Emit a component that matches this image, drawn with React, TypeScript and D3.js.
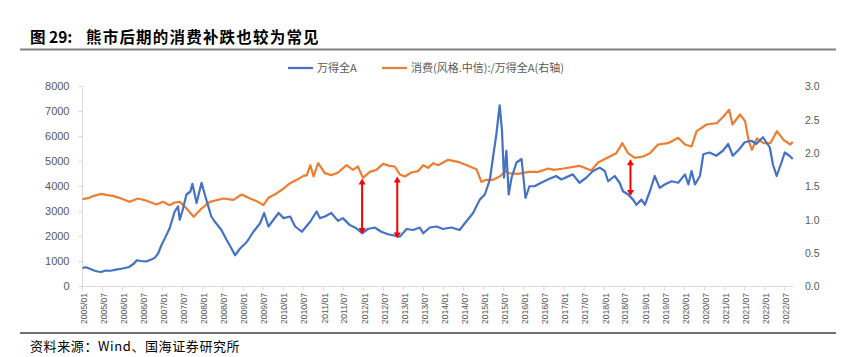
import React from "react";
import * as d3 from "d3";

const W = 844;
const H = 357;

const TITLE_NUM = "图 29:";
const TITLE = "熊市后期的消费补跌也较为常见";
const SOURCE = "资料来源：Wind、国海证券研究所";
const LEGEND = ["万得全A", "消费(风格.中信):/万得全A(右轴)"];

const xTickLabels = [
  "2005/01", "2005/07", "2006/01", "2006/07", "2007/01", "2007/07", "2008/01", "2008/07",
  "2009/01", "2009/07", "2010/01", "2010/07", "2011/01", "2011/07", "2012/01", "2012/07",
  "2013/01", "2013/07", "2014/01", "2014/07", "2015/01", "2015/07", "2016/01", "2016/07",
  "2017/01", "2017/07", "2018/01", "2018/07", "2019/01", "2019/07", "2020/01", "2020/07",
  "2021/01", "2021/07", "2022/01", "2022/07",
];
const leftTicks = [0, 1000, 2000, 3000, 4000, 5000, 6000, 7000, 8000];
const rightTicks = [0, 0.5, 1.0, 1.5, 2.0, 2.5, 3.0];

// 万得全A (left axis)
const allADates = [
  "2005-01-01", "2005-02-01", "2005-03-15", "2005-04-15", "2005-05-20", "2005-06-20", "2005-08-01", "2005-09-15",
  "2005-11-01", "2006-01-01", "2006-03-01", "2006-04-15", "2006-05-10", "2006-06-15", "2006-08-01", "2006-09-15",
  "2006-10-20", "2006-11-20", "2006-12-20", "2007-01-20", "2007-03-05", "2007-04-20", "2007-05-20", "2007-06-05",
  "2007-07-01", "2007-08-05", "2007-09-10", "2007-09-28", "2007-11-05", "2007-12-20", "2008-01-28", "2008-03-18",
  "2008-04-18", "2008-06-18", "2008-08-05", "2008-09-20", "2008-10-20", "2008-12-05", "2009-02-05", "2009-04-05",
  "2009-06-05", "2009-07-12", "2009-08-20", "2009-10-05", "2009-11-20", "2010-01-05", "2010-03-05", "2010-04-20",
  "2010-06-20", "2010-09-05", "2010-11-01", "2010-12-01", "2011-01-15", "2011-03-15", "2011-05-15", "2011-06-28",
  "2011-08-28", "2011-10-28", "2011-12-20", "2012-02-12", "2012-04-12", "2012-06-12", "2012-08-12", "2012-11-28",
  "2013-01-28", "2013-03-28", "2013-05-28", "2013-06-28", "2013-08-28", "2013-10-28", "2013-12-25", "2014-03-10",
  "2014-05-25", "2014-07-25", "2014-09-25", "2014-11-25", "2015-01-10", "2015-02-25", "2015-03-25", "2015-04-25",
  "2015-05-25", "2015-06-15", "2015-07-03", "2015-07-25", "2015-08-15", "2015-09-10", "2015-10-25", "2015-12-10",
  "2016-01-15", "2016-02-20", "2016-04-05", "2016-06-05", "2016-08-05", "2016-10-20", "2016-12-05", "2017-03-20",
  "2017-05-20", "2017-07-20", "2017-09-20", "2017-11-20", "2018-01-05", "2018-02-05", "2018-04-05", "2018-05-20",
  "2018-06-20", "2018-08-05", "2018-09-20", "2018-10-20", "2018-12-05", "2019-01-05", "2019-02-20", "2019-04-05",
  "2019-05-20", "2019-07-05", "2019-09-05", "2019-11-05", "2020-01-05", "2020-02-05", "2020-03-05", "2020-04-05",
  "2020-05-20", "2020-06-20", "2020-08-15", "2020-10-15", "2020-12-15", "2021-02-01", "2021-03-15", "2021-05-15",
  "2021-07-01", "2021-09-01", "2021-10-15", "2021-12-15", "2022-02-15", "2022-03-15", "2022-04-18", "2022-06-01",
  "2022-07-01", "2022-08-12", "2022-09-12",
];
const allAValues = [
  740, 770, 700, 640, 600, 580, 640, 630,
  673, 720, 780, 920, 1050, 1020, 1000, 1070,
  1145, 1320, 1650, 1925, 2330, 3000, 3200, 2670,
  3050, 3680, 3800, 4110, 3340, 4150, 3540, 2800,
  2600, 2260, 1860, 1500, 1250, 1520, 1790, 2190,
  2530, 2940, 2400, 2670, 2940, 2735, 2800, 2400,
  2190, 2600, 3000, 2735, 2800, 2940, 2625, 2735,
  2465, 2330, 2130, 2300, 2360, 2190, 2090, 1995,
  2300, 2260, 2360, 2130, 2360, 2400, 2300, 2360,
  2260, 2600, 2940, 3475, 3680, 4280, 5160, 6100,
  7250, 6230, 4350, 5430, 3680, 4350, 4960, 5100,
  3540, 4010, 4010, 4150, 4280, 4420, 4280, 4485,
  4150, 4350, 4620, 4755, 4620, 4210, 4420, 4150,
  3810, 3680, 3475, 3270, 3475, 3270, 3810, 4420,
  3945, 4080, 4210, 4150, 4485, 4080, 4620, 4080,
  4420, 5290, 5360, 5230, 5430, 5700, 5230, 5500,
  5770, 5830, 5700, 5970, 5560, 4890, 4420, 4960,
  5360, 5230, 5100,
];

// 消费(风格.中信)/万得全A (right axis)
const ratioDates = [
  "2005-01-01", "2005-03-05", "2005-04-15", "2005-06-20", "2005-08-15", "2005-10-05", "2005-12-01", "2006-03-05",
  "2006-05-20", "2006-08-01", "2006-11-05", "2007-01-05", "2007-03-05", "2007-04-20", "2007-06-05", "2007-08-05",
  "2007-10-10", "2007-12-20", "2008-03-05", "2008-07-05", "2008-10-05", "2008-12-20", "2009-03-05", "2009-05-05",
  "2009-07-05", "2009-08-20", "2009-11-05", "2010-01-05", "2010-03-05", "2010-05-05", "2010-07-05", "2010-08-05",
  "2010-09-05", "2010-10-05", "2010-11-15", "2011-01-15", "2011-03-15", "2011-05-15", "2011-08-01", "2011-09-28",
  "2011-11-12", "2011-12-28", "2012-02-28", "2012-04-28", "2012-06-28", "2012-08-28", "2012-10-12", "2012-11-28",
  "2013-01-12", "2013-03-12", "2013-05-12", "2013-06-28", "2013-08-12", "2013-09-28", "2013-11-12", "2014-02-10",
  "2014-05-10", "2014-08-10", "2014-10-25", "2014-12-10", "2015-01-25", "2015-03-25", "2015-05-25", "2015-07-25",
  "2015-08-10", "2015-11-10", "2016-02-10", "2016-05-10", "2016-08-10", "2016-10-01", "2016-12-25", "2017-05-20",
  "2017-09-05", "2017-11-05", "2018-02-20", "2018-04-20", "2018-06-15", "2018-08-05", "2018-10-05", "2018-12-20",
  "2019-02-20", "2019-05-05", "2019-08-05", "2019-11-05", "2020-01-05", "2020-03-05", "2020-04-20", "2020-07-20",
  "2020-10-20", "2020-12-20", "2021-02-10", "2021-03-12", "2021-05-20", "2021-07-05", "2021-08-05", "2021-09-05",
  "2021-10-20", "2021-12-20", "2022-02-20", "2022-04-20", "2022-06-20", "2022-08-20", "2022-09-12",
];
const ratioValues = [
  1.31, 1.33, 1.36, 1.39, 1.37, 1.36, 1.33, 1.27,
  1.32, 1.29, 1.23, 1.27, 1.22, 1.26, 1.27, 1.17,
  1.045, 1.17, 1.27, 1.32, 1.3, 1.38, 1.32, 1.28,
  1.22, 1.33, 1.4, 1.47, 1.55, 1.6, 1.66, 1.67,
  1.82, 1.65, 1.85, 1.7, 1.67, 1.71, 1.82, 1.75,
  1.8, 1.63, 1.72, 1.75, 1.84, 1.81, 1.8, 1.68,
  1.65, 1.71, 1.73, 1.82, 1.78, 1.85, 1.82, 1.9,
  1.87, 1.81, 1.76, 1.57, 1.6, 1.6, 1.65, 1.74,
  1.7, 1.69, 1.72, 1.72, 1.77, 1.75, 1.77, 1.81,
  1.74, 1.86, 1.95, 2.0, 2.15, 2.0, 1.93, 1.95,
  2.0, 2.13, 2.15, 2.23, 2.13, 2.1, 2.33, 2.43,
  2.45, 2.55, 2.65, 2.43, 2.58, 2.48, 2.2, 2.05,
  2.22, 2.15, 2.15, 2.33, 2.2, 2.13, 2.17,
];

// red double arrows: date, ratio (top, right axis), index (bottom, left axis)
const arrowDates = ["2011-12-20", "2012-11-04", "2018-08-27"];
const arrowTopRatio = [1.62, 1.65, 1.91];
const arrowBottomIndex = [2100, 1920, 3620];

const parse = d3.timeParse("%Y-%m-%d");
const labelDate = (s: string) => d3.timeParse("%Y/%m")(s) as Date;

const FONT = "'Liberation Sans', 'Noto Sans CJK SC', sans-serif";
const CJK = "'Noto Sans CJK SC', sans-serif";
const GRAY = "#595959";
const BLUE = "#4472C4";
const ORANGE = "#ED7D31";

export default function App() {
  const x = d3
    .scaleTime()
    .domain([new Date(2005, 0, 1), new Date(2022, 8, 14)])
    .range([82.5, 793]);
  const yL = d3.scaleLinear().domain([0, 8000]).range([286.5, 86.5]);
  const yR = d3.scaleLinear().domain([0, 3]).range([286.5, 86.5]);

  const blue = allADates.map((d, i) => [x(parse(d) as Date), yL(allAValues[i])] as [number, number]);
  const orange = ratioDates.map((d, i) => [x(parse(d) as Date), yR(ratioValues[i])] as [number, number]);
  const line = d3.line().curve(d3.curveLinear);

  const plotLeft = x.range()[0];
  const plotRight = x.range()[1];
  const plotBottom = yL.range()[0];
  const plotTop = yL.range()[1];

  const head = 6;
  const halfW = 3.5;

  return (
    <svg
      width={W}
      height={H}
      viewBox={`0 0 ${W} ${H}`}
      style={{ position: "absolute", left: 0, top: 0, display: "block", background: "#fff" }}
    >
      <rect x={0} y={0} width={W} height={H} fill="#fff" />
      {/* Title */}
      <text x={30} y={43} fontFamily={CJK} fontSize={15.5} fontWeight={700} fill="#000">
        {TITLE_NUM}
      </text>
      <text x={86} y={43} fontFamily={CJK} fontSize={15.5} fontWeight={700} fill="#000" letterSpacing={1.2}>
        {TITLE}
      </text>
      <line x1={20} x2={836} y1={49.5} y2={49.5} stroke="#7f7f7f" strokeWidth={1.8} />

      {/* Legend */}
      <line x1={288} x2={313} y1={68} y2={68} stroke={BLUE} strokeWidth={2.2} />
      <text x={317} y={72} fontFamily={CJK} fontSize={11} fill={GRAY}>
        {LEGEND[0]}
      </text>
      <line x1={382} x2={407} y1={68} y2={68} stroke={ORANGE} strokeWidth={2.2} />
      <text x={411} y={72} fontFamily={CJK} fontSize={11} fill={GRAY}>
        {LEGEND[1]}
      </text>

      {/* Left axis */}
      <line x1={plotLeft} x2={plotLeft} y1={plotTop} y2={plotBottom} stroke="#d9d9d9" strokeWidth={1} />
      {leftTicks.map((t) => (
        <g key={"l" + t}>
          <line x1={plotLeft - 4} x2={plotLeft} y1={yL(t)} y2={yL(t)} stroke="#d9d9d9" strokeWidth={1} />
          <text x={69.5} y={yL(t)} dy="0.35em" textAnchor="end" fontFamily={FONT} fontSize={11} fill={GRAY}>
            {t}
          </text>
        </g>
      ))}

      {/* Right axis labels */}
      {rightTicks.map((t) => (
        <text key={"r" + t} x={805} y={yR(t)} dy="0.35em" fontFamily={FONT} fontSize={10.5} fill={GRAY}>
          {t.toFixed(1)}
        </text>
      ))}

      {/* Bottom axis */}
      <line x1={plotLeft} x2={plotRight} y1={plotBottom} y2={plotBottom} stroke="#d9d9d9" strokeWidth={1} />
      {xTickLabels.map((lab) => {
        const xx = x(labelDate(lab));
        return (
          <g key={lab}>
            <line x1={xx} x2={xx} y1={plotBottom} y2={plotBottom + 4} stroke="#d9d9d9" strokeWidth={1} />
            <text
              transform={`translate(${xx + 1.2},293) rotate(-90)`}
              textAnchor="end"
              dy="0.35em"
              fontFamily={FONT}
              fontSize={8.6}
              fill={GRAY}
            >
              {lab}
            </text>
          </g>
        );
      })}

      {/* Series */}
      <path d={line(orange) || ""} fill="none" stroke={ORANGE} strokeWidth={2.2} strokeLinejoin="round" />
      <path d={line(blue) || ""} fill="none" stroke={BLUE} strokeWidth={2.2} strokeLinejoin="round" />

      {/* Red arrows */}
      {arrowDates.map((d, i) => {
        const ax = x(parse(d) as Date);
        const yt = yR(arrowTopRatio[i]);
        const yb = yL(arrowBottomIndex[i]);
        return (
          <g key={"a" + i}>
            <line x1={ax} x2={ax} y1={yt + head - 1} y2={yb - head + 1} stroke="#FF0000" strokeWidth={2} />
            <path d={`M${ax},${yt} L${ax - halfW},${yt + head} L${ax + halfW},${yt + head} Z`} fill="#FF0000" />
            <path d={`M${ax},${yb} L${ax - halfW},${yb - head} L${ax + halfW},${yb - head} Z`} fill="#FF0000" />
          </g>
        );
      })}

      {/* Footer */}
      <line x1={20} x2={836} y1={333} y2={333} stroke="#404040" strokeWidth={1.5} />
      <text x={30} y={351} fontFamily={CJK} fontSize={13} fill="#000" letterSpacing={0.6}>
        {SOURCE}
      </text>
    </svg>
  );
}
